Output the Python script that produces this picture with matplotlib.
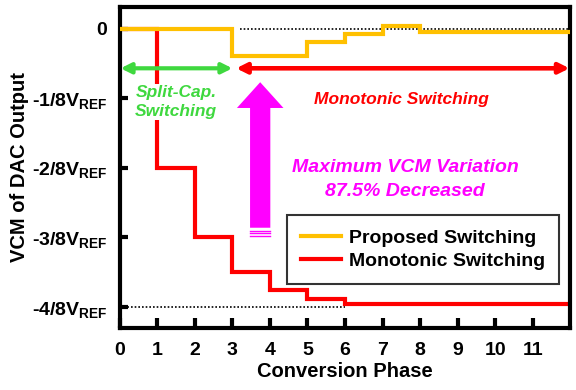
import numpy as np
import matplotlib
matplotlib.use("Agg")
import matplotlib.pyplot as plt
from matplotlib.patches import Polygon

plt.rcParams["font.family"] = ["Liberation Sans", "DejaVu Sans"]
plt.rcParams["font.weight"] = "bold"
plt.rcParams["mathtext.fontset"] = "custom"
plt.rcParams["mathtext.rm"] = "Liberation Sans:bold"
plt.rcParams["mathtext.it"] = "Liberation Sans:bold"
plt.rcParams["mathtext.bf"] = "Liberation Sans:bold"

# ---------------------------------------------------------------------------
# data (y in units of 1/8 VREF)
# ---------------------------------------------------------------------------
phase_edges = [0, 1, 2, 3, 4, 5, 6, 7, 8, 12]
proposed = [0, 0, 0, -0.4, -0.4, -0.19, -0.08, 0.04, -0.05]
monotonic = [0, -2, -3, -3.5, -3.76, -3.88, -3.96, -3.96, -3.96]

x_ticks = list(range(0, 12))
y_ticks = [0, -1, -2, -3, -4]
y_labels = ["0", "-1/8V$_{\\mathrm{REF}}$", "-2/8V$_{\\mathrm{REF}}$",
            "-3/8V$_{\\mathrm{REF}}$", "-4/8V$_{\\mathrm{REF}}$"]

YELLOW = "#FFC000"
RED = "#FF0000"
GREEN = "#3FD83F"
MAGENTA = "#FF00FF"

fig = plt.figure(figsize=(5.76, 3.90), dpi=100)
ax = fig.add_axes([0.208, 0.159, 0.782, 0.823])

# dotted reference lines
ax.plot([3.2, 12], [0, 0], color="black", ls=(0, (1, 1.2)), lw=1.2, zorder=1)
ax.plot([0, 6], [-4, -4], color="black", ls=(0, (1, 1.2)), lw=1.2, zorder=1)

# step curves
ax.stairs(monotonic, phase_edges, color=RED, lw=3, baseline=None, zorder=2,
          label="Monotonic Switching")
ax.stairs(proposed, phase_edges, color=YELLOW, lw=3, baseline=None, zorder=3,
          label="Proposed Switching")

# region arrows
arrow_y = -0.57
ax.annotate("", xy=(0.02, arrow_y), xytext=(3.0, arrow_y),
            arrowprops=dict(arrowstyle="<|-|>", color=GREEN, lw=3,
                            mutation_scale=15, shrinkA=0, shrinkB=0), zorder=4)
ax.annotate("", xy=(3.1, arrow_y), xytext=(11.98, arrow_y),
            arrowprops=dict(arrowstyle="<|-|>", color=RED, lw=3.3,
                            mutation_scale=15, shrinkA=0, shrinkB=0), zorder=4)

ax.text(1.5, -1.05, "Split-Cap.\nSwitching", color=GREEN, fontsize=12.5,
        style="italic", ha="center", va="center", linespacing=1.3,
        bbox=dict(facecolor="white", edgecolor="none", pad=1), zorder=5)
ax.text(7.5, -1.02, "Monotonic Switching", color=RED, fontsize=12.5,
        style="italic", ha="center", va="center", zorder=5)

# big magenta arrow
ax_c, shaft_w, head_w = 3.74, 0.27, 0.62
tip_y, head_base, shaft_bot = -0.77, -1.14, -2.86
arrow_pts = [(ax_c, tip_y), (ax_c + head_w, head_base), (ax_c + shaft_w, head_base),
             (ax_c + shaft_w, shaft_bot), (ax_c - shaft_w, shaft_bot),
             (ax_c - shaft_w, head_base), (ax_c - head_w, head_base)]
ax.add_patch(Polygon(arrow_pts, closed=True, facecolor=MAGENTA, edgecolor="none", zorder=4))
for yy in [-2.9, -2.94, -2.98]:
    ax.plot([ax_c - shaft_w, ax_c + shaft_w], [yy, yy], color=MAGENTA, lw=1, zorder=4)

ax.text(7.6, -1.99, "Maximum VCM Variation", color=MAGENTA, fontsize=14,
        style="italic", ha="center", va="center")
ax.text(7.6, -2.34, "87.5% Decreased", color=MAGENTA, fontsize=14,
        style="italic", ha="center", va="center")

# axes styling
ax.set_xlim(0, 12)
ax.set_ylim(-4.3, 0.31)
ax.set_xticks(x_ticks)
ax.set_yticks(y_ticks)
ax.set_yticklabels(y_labels)
ax.tick_params(axis="both", direction="in", length=7, width=3, labelsize=14)
ax.tick_params(axis="x", pad=10)
ax.tick_params(axis="y", length=6, pad=9)
for lab in ax.get_xticklabels() + ax.get_yticklabels():
    lab.set_fontweight("bold")
for sp in ax.spines.values():
    sp.set_linewidth(3)

ax.set_xlabel("Conversion Phase", fontsize=14.5, fontweight="bold", labelpad=2)
ax.set_ylabel("VCM of DAC Output", fontsize=14.5, fontweight="bold", labelpad=2)

h, l = ax.get_legend_handles_labels()
leg = ax.legend(h[::-1], l[::-1], loc="lower right", bbox_to_anchor=(0.988, 0.12),
                fontsize=14, frameon=True, fancybox=False, edgecolor="black",
                handlelength=2.05, borderpad=0.7, labelspacing=0.3, handletextpad=0.45,
                borderaxespad=0.3)
leg.get_frame().set_linewidth(1.5)
for t in leg.get_texts():
    t.set_fontweight("bold")
leg.set_zorder(6)

fig.savefig("out.png", dpi=100)
